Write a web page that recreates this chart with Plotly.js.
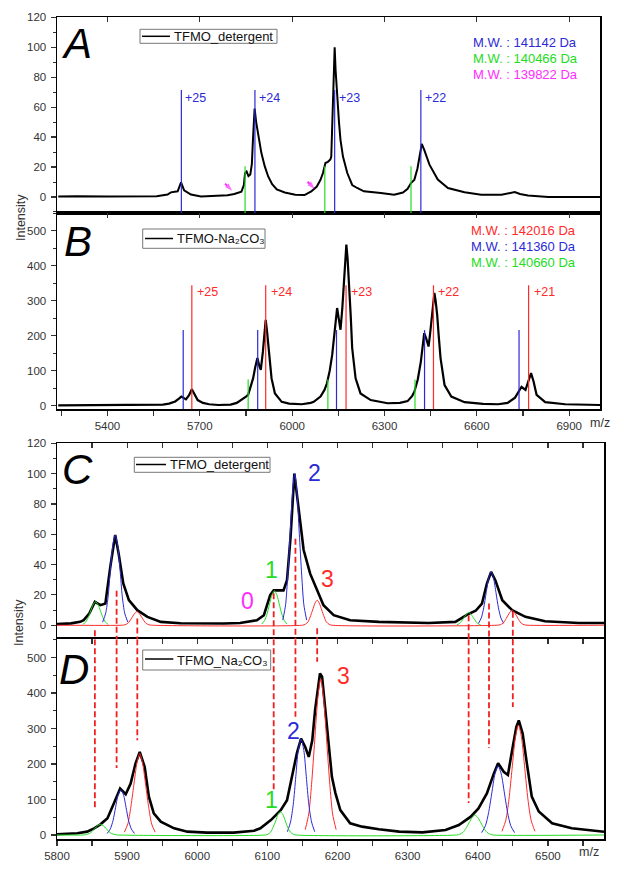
<!DOCTYPE html>
<html><head><meta charset="utf-8">
<script src="https://cdn.plot.ly/plotly-3.0.1.min.js"></script>
<style>html,body{margin:0;padding:0;background:#fff}#chart{width:624px;height:869px}</style>
</head><body><div id="chart"></div>
<script>
// ---------------- DATA ----------------
// Panel A: TFMO_detergent spectrum [m/z, intensity]
const spectrumA = [[5240,0.3],[5300,0.5],[5400,0.3],[5500,0.2],[5560,0.5],[5595,1.6],[5606,3.1],[5628,3.8],[5639,9.8],[5649,4.4],[5671,1.6],[5704,0.4],[5760,0.6],[5790,1.2],[5812,2],[5835,3.5],[5843,8],[5847,16],[5852,17],[5858,14],[5864,15],[5869,22],[5873,40],[5878,59],[5883,50],[5889,42.7],[5895,34],[5900,29.3],[5911,20.4],[5922,13.7],[5935,8.5],[5950,5],[5976,3],[6010,1.5],[6040,1.3],[6052,2.5],[6062,3.7],[6080,7],[6092,11.5],[6100,16],[6108,22.7],[6116,23.5],[6124,25],[6127,27],[6130,47],[6135,80],[6138,100],[6141,85],[6146,65],[6152,50],[6157,38],[6165,27],[6179,16],[6195,8],[6211,6],[6233,3.8],[6288,2.7],[6331,1.5],[6360,3],[6375,5.5],[6386,9.3],[6397,11.6],[6407,19],[6414,28],[6421,35.5],[6429,31.5],[6446,21.6],[6473,11.6],[6506,6],[6560,3.1],[6614,1.5],[6680,1.5],[6710,2.5],[6723,3.3],[6740,2],[6766,1],[6832,0],[7000,0]];
const chargesA = ['+25','+24','+23','+22'];
const blueMzA = [5640, 5879, 6138, 6418];      // M.W. 141142 Da
const greenMzA = [5847, 6106, 6386];           // M.W. 140466 Da
const blueTopA = [71.5, 71.5, 71.5, 71.5];
const greenTopA = [20.5, 20.5, 20.5];
const arrowTipMzA = [5805, 6073];              // M.W. 139822 Da markers
const arrowTipIntA = [4.2, 5.5];
const arrowTailMzA = [5782, 6050];
const arrowTailIntA = [8.9, 10.2];
const mwTextA = ['M.W. : 141142 Da', 'M.W. : 140466 Da', 'M.W. : 139822 Da'];

// Panel B: TFMO-Na2CO3 spectrum
const spectrumB = [[5240,1],[5400,1],[5500,1.5],[5580,3],[5600,6],[5620,12],[5632,20],[5640,26],[5655,18],[5665,30],[5674,47],[5683,30],[5693,16],[5710,8],[5730,4],[5760,2],[5800,3],[5820,8],[5835,16],[5850,26],[5857,31],[5866,55],[5873,78],[5880,110],[5887,136],[5893,115],[5898,102],[5905,155],[5910,210],[5914,245],[5918,215],[5922,174],[5928,120],[5933,78],[5944,35],[5966,11],[5990,6],[6031,4],[6060,8],[6070,11],[6092,26],[6105,45],[6113,64],[6122,100],[6130,145],[6138,210],[6146,279],[6151,250],[6157,217],[6163,280],[6168,365],[6176,460],[6180,420],[6184,365],[6190,260],[6195,164],[6206,78],[6222,35],[6255,16],[6310,7],[6350,8],[6375,13],[6390,28],[6397,40],[6408,75],[6418,126],[6424,180],[6429,207],[6436,190],[6443,169],[6448,205],[6453,250],[6462,322],[6466,300],[6471,260],[6476,200],[6482,136],[6495,59],[6517,26],[6560,10],[6620,5],[6669,4],[6700,8],[6724,23],[6737,45],[6745,54],[6758,45],[6768,75],[6776,93],[6784,70],[6794,31],[6822,10],[6887,4],[7000,2]];
const chargesB = ['+25','+24','+23','+22','+21'];
const redMzB = [5674, 5914, 6175, 6459, 6768];   // M.W. 142016 Da
const blueMzB = [5646, 5888, 6144, 6430, 6737];  // M.W. 141360 Da
const greenMzB = [5857, 6116, 6399];             // M.W. 140660 Da
const redTopB = [344, 344, 344, 344, 344];
const blueTopB = [216, 216, 216, 216, 216];
const greenTopB = [75, 75, 75];
const mwTextB = ['M.W. : 142016 Da', 'M.W. : 141360 Da', 'M.W. : 140660 Da'];

// Panel C: TFMO_detergent (zoom) spectrum and fitted components
const spectrumC = [[5800,0.7],[5820,1.2],[5833,2.2],[5838,3.3],[5846,7.7],[5854,15.4],[5862,13.2],[5869,14.3],[5876,38.5],[5883,59.5],[5888,47],[5894.5,27.5],[5902.5,16.5],[5914.5,9.9],[5929,5.5],[5948,2.2],[5976,1.3],[6000,1.1],[6038,1.1],[6061,1.5],[6085,3.3],[6095,6.6],[6104,19.8],[6109,23],[6123,23],[6128,29.7],[6133,58],[6138.5,100],[6144.6,76],[6151.7,49.6],[6161,34],[6171,23],[6180,13.2],[6194.5,6.6],[6218,3.3],[6259,2.2],[6330,1.5],[6368,2.2],[6385,7],[6397,9.5],[6406,14.3],[6413,27.5],[6419,35.2],[6425,29.7],[6435,16.5],[6449,9.9],[6468,5.5],[6496,2.6],[6544,1.5],[6580,1.5]];
const greenFitC = [[5837,0.5],[5841,2.1],[5844.5,5],[5848,9.3],[5851.5,13.6],[5855,15.4],[5858.5,13.6],[5862,9.3],[5865.5,5],[5869,2.1],[5873,0.5],null,
  [6092,0.8],[6096,3.1],[6099.5,7.4],[6103,13.8],[6106.5,20],[6110,22.7],[6113.5,20],[6117,13.8],[6120.5,7.4],[6124,3.1],[6128,0.8],null,
  [6370,0.3],[6374,1.1],[6377,2.7],[6380.5,5.1],[6384,7.4],[6387,8.4],[6390,7.4],[6393.5,5.1],[6397,2.7],[6400,1.1],[6404,0.3]];
const blueFitC = [[5865,2],[5869.5,8],[5873,19.3],[5876,36.1],[5879.5,52.5],[5883,59.5],[5886.5,52.5],[5890,36.1],[5893,19.3],[5896.5,8],[5901,2],null,
  [6122,3.4],[6126,13.5],[6129,32.5],[6132.5,60.7],[6136,88.2],[6139,100],[6142,88.2],[6145.5,60.7],[6149,32.5],[6152,13.5],[6156,3.4],null,
  [6401,1.2],[6405,4.8],[6408.5,11.4],[6412,21.4],[6415.5,31],[6419,35.2],[6422.5,31],[6426,21.4],[6429.5,11.4],[6433,4.8],[6437,1.2]];
const redFitC = [[5800,0],[5893,0],[5897,0.3],[5901,1.2],[5904,2.9],[5907.5,5.5],[5911,7.9],[5914,9],[5917,7.9],[5920.5,5.5],[5924,2.9],[5927,1.2],[5931,0.3],[5935,0],
  [6150,0],[6154,0.6],[6158,2.2],[6161,5.4],[6164.5,10],[6168,14.6],[6171,16.5],[6174,14.6],[6177.5,10],[6181,5.4],[6184,2.2],[6188,0.6],[6192,0],
  [6428,0],[6432,0.3],[6436,1.3],[6439,3.2],[6442.5,6],[6446,8.7],[6449,9.9],[6452,8.7],[6455.5,6],[6459,3.2],[6462,1.3],[6466,0.3],[6470,0],[6580,0]];

// Panel D: TFMO_Na2CO3 (zoom) spectrum and fitted components
const spectrumD = [[5800,2],[5829,4.7],[5843,9.4],[5853,18.8],[5862,30],[5872,47],[5881,89],[5890,131],[5898,115],[5905,145],[5912,202],[5918,234],[5925,192],[5931,108],[5938,61],[5948,37.5],[5967,18.8],[5986,9.4],[6014,6.6],[6052,6.6],[6081,12],[6090,18.8],[6105,42],[6119,70],[6128,98],[6137,183],[6142,230],[6148,272],[6154,248],[6159,220],[6164,267],[6168,352],[6175,455],[6178,446],[6183,352],[6187,258],[6192,164],[6197,118],[6204,70],[6218,33],[6235,23.5],[6259,16],[6288,9.4],[6321,7.5],[6354,14],[6373,28],[6390,51.6],[6401,75],[6413,117],[6423,173.5],[6429,202],[6437,178],[6443,169],[6449,239],[6455,305],[6458.5,323],[6464,286],[6470,202],[6477,108],[6487,66],[6506,33],[6534,18.8],[6577,9.4],[6580,9]];
const greenFitD = [[5800,0],[5837,0],[5841,1],[5846,4],[5850,9.8],[5854,18.2],[5858,26.5],[5862,30],[5866,26.5],[5870,18.2],[5874,9.8],[5878,4],[5883,1],[5887,0],
  [6097,0],[6101,2.2],[6105,8.9],[6108,21.3],[6112,39.8],[6115,57.9],[6118.5,65.6],[6122,57.9],[6125.5,39.8],[6129,21.3],[6132.5,8.9],[6137,2.2],[6141,0],
  [6370,0],[6374,1.9],[6379,7.6],[6383,18.2],[6387.5,34],[6392,49.4],[6396,56],[6400,49.4],[6404.5,34],[6409,18.2],[6413,7.6],[6418,1.9],[6422,0],[6580,0]];
const blueFitD = [[5871.5,4.3],[5876,17.1],[5880,41.3],[5883.5,77.1],[5887,112],[5891,127],[5895,112],[5898.5,77.1],[5902,41.3],[5906,17.1],[5910.5,4.3],null,
  [6128.5,9.2],[6133,36.5],[6137,87.8],[6140.5,164],[6144,238],[6148,270],[6152,238],[6155.5,164],[6159,87.8],[6163,36.5],[6167.5,9.2],null,
  [6405.5,6.6],[6411,26.3],[6415.5,63.4],[6420,118],[6424.5,172],[6429,195],[6433.5,172],[6438,118],[6442.5,63.4],[6447,26.3],[6452.5,6.6]];
const redFitD = [[5896,7.8],[5901,31],[5905,74.8],[5909.5,140],[5914,203],[5918,230],[5922,203],[5926.5,140],[5931,74.8],[5935,31],[5940,7.8],null,
  [6154,15],[6159,59.4],[6163,143],[6167.5,267],[6172,388],[6176,440],[6180,388],[6184.5,267],[6189,143],[6193,59.4],[6198,15],null,
  [6434.5,10.5],[6440,41.9],[6444.5,101],[6449,188],[6453.5,273],[6458,310],[6462.5,273],[6467,188],[6471.5,101],[6476,41.9],[6481.5,10.5]];

// Dashed guide lines linking C and D (m/z, top in C, bottom in D)
const dashMz = [5854, 5885, 5914.5, 6109, 6140, 6171, 6387, 6416, 6450];
const dashStartC = [-3.3, 22.7, 4.4, 21, 57, -2, 6.6, 14.3, 8.8];
const dashEndD = [76, 188.6, 267, 126.6, 333, 488, 90, 245, 361];

// ---------------- LAYOUT HELPERS ----------------
const W = 624, H = 869;
const PX = x => x / W;
const PY = y => 1 - y / H;
const FONT = 'Liberation Sans, Arial, sans-serif';
const C_BLUE = '#2a2ad6', C_GREEN = '#22dd22', C_MAG = '#ff2cff', C_RED = '#ff2a2a';
const XS = arr => arr.map(p => p === null ? null : p[0]);
const YS = arr => arr.map(p => p === null ? null : p[1]);

const rangeAB = [5236, 7000], rangeCD = [5800, 6580];
const rA = [-10.7, 120], rB = [-9.5, 550.5], rC = [-9.3, 120], rD = [-11.3, 551.5];

const traces = [];
function spec(arr, xa, ya, w) {
  traces.push({x: XS(arr), y: YS(arr), xaxis: xa, yaxis: ya, type: 'scatter', mode: 'lines',
    line: {color: '#000', width: w}, showlegend: false, hoverinfo: 'skip'});
}
function fit(arr, xa, ya, color) {
  traces.push({x: XS(arr), y: YS(arr), xaxis: xa, yaxis: ya, type: 'scatter', mode: 'lines',
    line: {color: color, width: 1, shape: 'spline', smoothing: 0.7}, connectgaps: false,
    showlegend: false, hoverinfo: 'skip'});
}
spec(spectrumA, 'x', 'y', 2);
spec(spectrumB, 'x2', 'y2', 2.2);
spec(spectrumC, 'x3', 'y3', 2.6);
fit(greenFitC, 'x3', 'y3', C_GREEN);
fit(blueFitC, 'x3', 'y3', C_BLUE);
fit(redFitC, 'x3', 'y3', C_RED);
spec(spectrumD, 'x4', 'y4', 2.6);
fit(redFitD, 'x4', 'y4', C_RED);
fit(blueFitD, 'x4', 'y4', C_BLUE);
fit(greenFitD, 'x4', 'y4', C_GREEN);
// magenta arrows marking the 139822 Da species in A
arrowTipMzA.forEach((m, i) => traces.push({
  x: [arrowTailMzA[i], m], y: [arrowTailIntA[i], arrowTipIntA[i]], xaxis: 'x', yaxis: 'y', type: 'scatter',
  mode: 'lines+markers', line: {color: C_MAG, width: 2},
  marker: {symbol: ['circle', 'arrow'], size: [0, 8], color: C_MAG, angleref: 'previous', line: {width: 0}},
  showlegend: false, hoverinfo: 'skip', cliponaxis: false}));
// empty traces to register top overlay axes
['x5|y','x6|y2','x7|y3','x8|y4'].forEach(s => {
  const [xa, ya] = s.split('|');
  traces.push({x: [null], y: [null], xaxis: xa, yaxis: ya, type: 'scatter', mode: 'lines', showlegend: false, hoverinfo: 'skip'});
});

const shapes = [];
function vlines(mzs, tops, xref, yref, ybottom, color) {
  mzs.forEach((m, i) => shapes.push({type: 'line', xref: xref, yref: yref, x0: m, x1: m, y0: ybottom, y1: tops[i],
    line: {color: color, width: 1.2}, layer: 'above'}));
}
vlines(greenMzA, greenTopA, 'x', 'y', rA[0], C_GREEN);
vlines(blueMzA, blueTopA, 'x', 'y', rA[0], C_BLUE);
vlines(greenMzB, greenTopB, 'x2', 'y2', rB[0], C_GREEN);
vlines(blueMzB, blueTopB, 'x2', 'y2', rB[0], C_BLUE);
vlines(redMzB, redTopB, 'x2', 'y2', rB[0], C_RED);
dashMz.forEach((m, i) => {
  shapes.push({type: 'line', xref: 'x3', yref: 'y3', x0: m, x1: m, y0: dashStartC[i], y1: rC[0],
    line: {color: '#f02020', width: 1.8, dash: '6px,3px'}, layer: 'above'});
  shapes.push({type: 'line', xref: 'x4', yref: 'y4', x0: m, x1: m, y0: rD[1], y1: dashEndD[i],
    line: {color: '#f02020', width: 1.8, dash: '6px,3px'}, layer: 'above'});
});
// legend boxes (paper, pixel-measured)
function legendBox(x0, x1, y0, y1, lx0, lx1, ly) {
  shapes.push({type: 'rect', xref: 'paper', yref: 'paper', x0: PX(x0), x1: PX(x1), y0: PY(y1), y1: PY(y0),
    line: {color: '#777', width: 1}, fillcolor: 'rgba(255,255,255,0)', layer: 'above'});
  shapes.push({type: 'line', xref: 'paper', yref: 'paper', x0: PX(lx0), x1: PX(lx1), y0: PY(ly), y1: PY(ly),
    line: {color: '#000', width: 1.5}, layer: 'above'});
}
legendBox(140, 277, 29.3, 43.3, 142, 170, 36.3);
legendBox(142.7, 265, 229, 248.3, 145, 173, 238.5);
legendBox(134.3, 270, 457.3, 472.3, 136, 166, 464.5);
legendBox(142.7, 270.7, 650, 670, 145, 173.3, 659);

const ann = [];
function txt(x, y, text, size, color, opts) {
  ann.push(Object.assign({xref: 'paper', yref: 'paper', x: PX(x), y: PY(y), text: text, showarrow: false,
    xanchor: 'left', yanchor: 'middle', font: {family: FONT, size: size, color: color}}, opts || {}));
}
// legend texts
txt(172, 36.5, 'TFMO_detergent', 13, '#111');
txt(175, 239, 'TFMO-Na\u2082CO\u2083', 13, '#111');
txt(168, 464.5, 'TFMO_detergent', 13, '#111');
txt(175, 660, 'TFMO_Na\u2082CO\u2083', 13, '#111');
// M.W. texts
const mwColA = [C_BLUE, C_GREEN, C_MAG], mwColB = [C_RED, C_BLUE, C_GREEN];
mwTextA.forEach((t, i) => txt(471, 42.7 + i * 16, t, 13, mwColA[i]));
mwTextB.forEach((t, i) => txt(469, 230 + i * 16.3, t, 13, mwColB[i]));
// charge labels
chargesA.forEach((t, i) => ann.push({xref: 'x', yref: 'y', x: blueMzA[i], y: 66, text: t, showarrow: false,
  xanchor: 'left', yanchor: 'middle', xshift: 2, font: {family: FONT, size: 12.5, color: C_BLUE}}));
chargesB.forEach((t, i) => ann.push({xref: 'x2', yref: 'y2', x: redMzB[i], y: 325, text: t, showarrow: false,
  xanchor: 'left', yanchor: 'middle', xshift: 3, font: {family: FONT, size: 12.5, color: C_RED}}));
// panel letters
[['A', 76.5, 43.5], ['B', 77.5, 241], ['C', 77.5, 470], ['D', 74, 669]].forEach(l =>
  txt(l[1], l[2], l[0], 42, '#000', {xanchor: 'center', font: {family: FONT, size: 42, color: '#000', style: 'italic'}}));
// component numbers
txt(247, 601, '0', 23, C_MAG, {xanchor: 'center'});
txt(271.5, 570, '1', 23, C_GREEN, {xanchor: 'center'});
txt(314, 472.5, '2', 23, C_BLUE, {xanchor: 'center'});
txt(327.5, 579, '3', 23, C_RED, {xanchor: 'center'});
txt(271, 800, '1', 23, C_GREEN, {xanchor: 'center'});
txt(293, 730.5, '2', 23, C_BLUE, {xanchor: 'center'});
txt(343, 676, '3', 23, C_RED, {xanchor: 'center'});
// axis titles
txt(21, 218, 'Intensity', 12.5, '#333', {xanchor: 'center', textangle: -90});
txt(19, 623, 'Intensity', 12.5, '#333', {xanchor: 'center', textangle: -90});
txt(600, 423.5, 'm/z', 12.5, '#333', {xanchor: 'center'});
txt(589, 852, 'm/z', 12.5, '#333', {xanchor: 'center'});

const tickfont = {family: FONT, size: 11.5, color: '#333'};
const baseAx = {showgrid: false, zeroline: false, showline: true, linecolor: '#000', linewidth: 1.5, fixedrange: true, tickcolor: '#333'};
const dA = [PX(57), PX(600)], dC = [PX(57), PX(604)];
function xBottom(domain, anchor, range, labels, dtick, tick0, minorD, lineOn) {
  const a = Object.assign({}, baseAx, {domain: domain, anchor: anchor, range: range, linewidth: 2});
  if (labels) {
    Object.assign(a, {ticks: 'outside', ticklen: 5, tickwidth: 1.2, dtick: dtick, tick0: tick0, showticklabels: true, tickfont: tickfont,
      minor: {dtick: minorD, tick0: tick0, ticks: 'outside', ticklen: 5, tickwidth: 1.2, tickcolor: '#333', showgrid: false}});
  } else {
    Object.assign(a, {ticks: '', showticklabels: false, showline: !!lineOn});
  }
  return a;
}
function xTop(over, anchor, range, dtick, tick0, lw) {
  return Object.assign({}, baseAx, {overlaying: over, anchor: anchor, side: 'top', range: range, ticks: 'inside', ticklen: 5, tickwidth: 1.2,
    dtick: dtick, tick0: tick0, showticklabels: false, linewidth: lw});
}
function yAx(domain, anchor, range, dtick, minorD) {
  return Object.assign({}, baseAx, {domain: domain, anchor: anchor, range: range, ticks: 'outside', ticklen: 5, tickwidth: 1.2,
    dtick: dtick, tick0: 0, tickfont: tickfont, mirror: true, ticklabelstandoff: 2,
    minor: {dtick: minorD, tick0: 0, ticks: 'outside', ticklen: 3, tickwidth: 1, tickcolor: '#333', showgrid: false}});
}

const layout = {
  width: W, height: H, margin: {l: 0, r: 0, t: 0, b: 0}, paper_bgcolor: '#fff', plot_bgcolor: '#fff',
  showlegend: false, hovermode: false, font: {family: FONT},
  xaxis: xBottom(dA, 'y', rangeAB, false, 0, 0, 0, true),
  xaxis2: xBottom(dA, 'y2', rangeAB, true, 300, 5400, 150),
  xaxis3: xBottom(dC, 'y3', rangeCD, false, 0, 0, 0, false),
  xaxis4: xBottom(dC, 'y4', rangeCD, true, 100, 5800, 50),
  xaxis5: xTop('x', 'y', rangeAB, 300, 5400, 1.5),
  xaxis6: xTop('x2', 'y2', rangeAB, 300, 5400, 2),
  xaxis7: xTop('x3', 'y3', rangeCD, 50, 5800, 1.5),
  xaxis8: xTop('x4', 'y4', rangeCD, 50, 5800, 2),
  yaxis: yAx([PY(213), PY(17.3)], 'x', rA, 20, 10),
  yaxis2: yAx([PY(409), PY(213)], 'x2', rB, 100, 50),
  yaxis3: yAx([PY(639.3), PY(443.3)], 'x3', rC, 20, 10),
  yaxis4: yAx([PY(839), PY(639.3)], 'x4', rD, 100, 50),
  shapes: shapes, annotations: ann
};
Plotly.newPlot('chart', traces, layout, {staticPlot: true, displayModeBar: false});
</script>
</body></html>
